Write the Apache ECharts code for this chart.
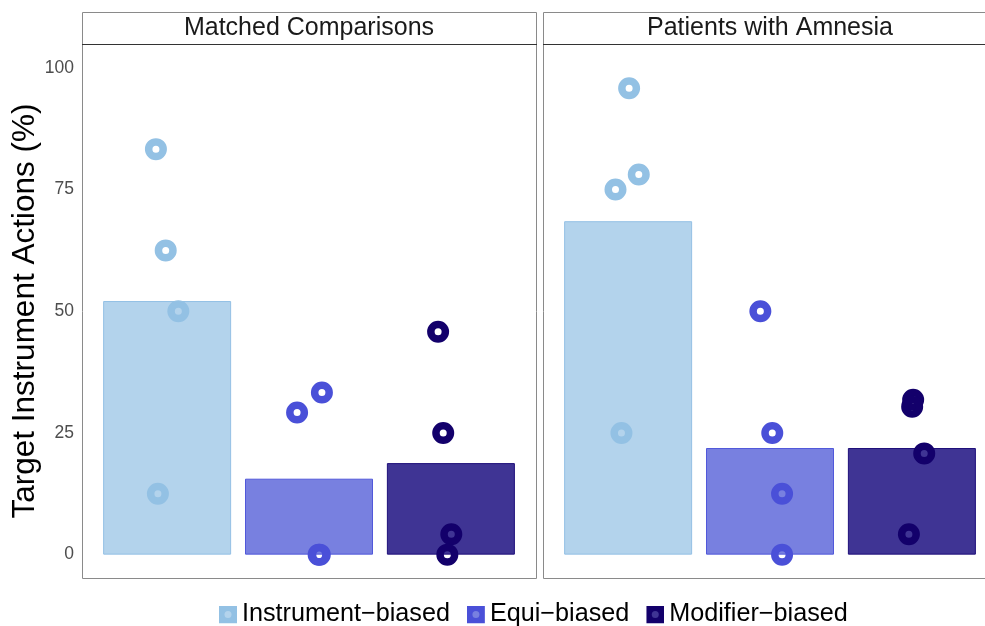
<!DOCTYPE html>
<html>
<head>
<meta charset="utf-8">
<script src="https://cdn.jsdelivr.net/npm/echarts@6/dist/echarts.min.js"></script>
<style>
  html, body { margin: 0; padding: 0; background: #fff; }
  #chart { width: 985px; height: 626px; }
</style>
</head>
<body>
<div id="chart"></div>
<script>
var groups = ['Instrument\u2212biased', 'Equi\u2212biased', 'Modifier\u2212biased'];
var panels = ['Matched Comparisons', 'Patients with Amnesia'];
var yTicks = [0, 25, 50, 75, 100];

// bar heights (group means)
var barMatched = [52.1, 15.6, 18.8];
var barAmnesia = [68.5, 21.9, 21.9];

// jittered points: [x position (group 1..3 + jitter), value]
var ptsMatched = [
    [[0.921, 83.3], [0.990, 62.5], [1.079, 50.0], [0.935, 12.5]],
    [[1.916, 29.2], [2.091, 33.3], [2.068, 0.0], [2.076, 0.0]],
    [[2.910, 45.8], [2.946, 25.0], [3.003, 4.2], [2.975, 0.0]]
];
var ptsAmnesia = [
    [[1.007, 95.8], [1.075, 78.1], [0.911, 75.0], [0.953, 25.0]],
    [[1.932, 50.0], [2.016, 25.0], [2.085, 12.5], [2.085, 0.0]],
    [[3.009, 31.8], [3.002, 30.4], [3.087, 20.8], [2.979, 4.2]]
];

var ringColor = ['#93c1e4', '#4a50d8', '#13006b'];
var barColor = ['#b3d3ec', '#7880e0', '#3f3494'];
var barEdge = ['#94c1e5', '#5158da', '#1f0f7a'];

var chart = echarts.init(document.getElementById('chart'));

function keyIcon(i) {
    var svg = '<svg xmlns="http://www.w3.org/2000/svg" width="18" height="18">' +
        '<rect x="0" y="0" width="18" height="18" fill="' + ringColor[i] + '"/>' +
        '<circle cx="9" cy="9" r="3.5" fill="' + barColor[i] + '"/></svg>';
    return 'image://data:image/svg+xml;utf8,' + encodeURIComponent(svg);
}

var series = [];
[barMatched, barAmnesia].forEach(function (bars, p) {
    var pts = p === 0 ? ptsMatched : ptsAmnesia;
    // one bar series per panel so bars are not offset side by side
    series.push({
        name: 'mean ' + p,
        type: 'bar',
        xAxisIndex: p,
        yAxisIndex: p,
        barWidth: 128,
        data: bars.map(function (v, i) {
            return {
                value: [i + 1, v],
                itemStyle: { color: barColor[i], borderColor: barEdge[i], borderWidth: 1 }
            };
        }),
        z: 2
    });
    groups.forEach(function (g, i) {
        series.push({
            name: g,
            type: 'scatter',
            xAxisIndex: p,
            yAxisIndex: p,
            symbol: 'circle',
            symbolSize: 14.5,
            itemStyle: { color: 'rgba(0,0,0,0)', borderColor: ringColor[i], borderWidth: 7.5, opacity: 1 },
            data: pts[i],
            z: 3
        });
    });
});

// full panel boxes; the second panel runs past the right edge of the picture
var panelBox = [
    { left: 82, top: 44, width: 454, height: 534 },
    { left: 543, top: 44, width: 454, height: 534 }
];
// plotted part of each panel (second one cut at the canvas edge)
var gridWidth = [454, 442];
var unitPx = 454 / 3.2;

var graphics = [];
panels.forEach(function (name, p) {
    var g = panelBox[p];
    graphics.push(
        { type: 'rect', z: 0, shape: { x: g.left + 0.5, y: g.top + 0.5, width: g.width, height: g.height },
          style: { fill: 'none', stroke: '#8a8a8a', lineWidth: 1 } },
        { type: 'rect', z: 0, shape: { x: g.left + 0.5, y: 12.5, width: g.width, height: 32 },
          style: { fill: '#fff', stroke: '#8a8a8a', lineWidth: 1 } },
        { type: 'line', z: 0, shape: { x1: g.left, y1: 44.5, x2: g.left + g.width + 1, y2: 44.5 },
          style: { stroke: '#333', lineWidth: 1 } },
        { type: 'text', z: 1, x: g.left + g.width / 2, y: 28,
          style: { text: name, fill: '#1a1a1a', font: '25px "Liberation Sans"',
                   textAlign: 'center', textVerticalAlign: 'middle' } }
    );
});
graphics.push({
    type: 'text', z: 1, x: 25, y: 311, rotation: Math.PI / 2,
    style: { text: 'Target Instrument Actions (%)', fill: '#000', font: '31.5px "Liberation Sans"',
             textAlign: 'center', textVerticalAlign: 'middle' }
});

var option = {
    animation: false,
    grid: [0, 1].map(function (p) {
        return { left: panelBox[p].left, top: panelBox[p].top, width: gridWidth[p],
                 height: panelBox[p].height, show: false };
    }),
    xAxis: [0, 1].map(function (p) {
        return { type: 'value', gridIndex: p, min: 0.4, max: 0.4 + gridWidth[p] / unitPx, show: false };
    }),
    yAxis: [0, 1].map(function (p) {
        return {
            type: 'value',
            gridIndex: p,
            min: -4.8,
            max: 104.9,
            axisLine: { show: false },
            axisTick: { show: false },
            splitLine: { show: false },
            axisLabel: {
                show: p === 0,
                customValues: yTicks,
                fontSize: 17.5,
                color: '#4d4d4d',
                margin: 8,
                padding: [6, 0, 0, 0],
                fontFamily: 'Liberation Sans'
            }
        };
    }),
    legend: {
        bottom: -6,
        left: 214,
        itemWidth: 18,
        itemHeight: 18,
        itemGap: 17,
        textStyle: { fontSize: 25.2, color: '#000', fontFamily: 'Liberation Sans' },
        data: groups.map(function (g, i) { return { name: g, icon: keyIcon(i) }; })
    },
    graphic: graphics,
    series: series
};

chart.setOption(option);
</script>
</body>
</html>
